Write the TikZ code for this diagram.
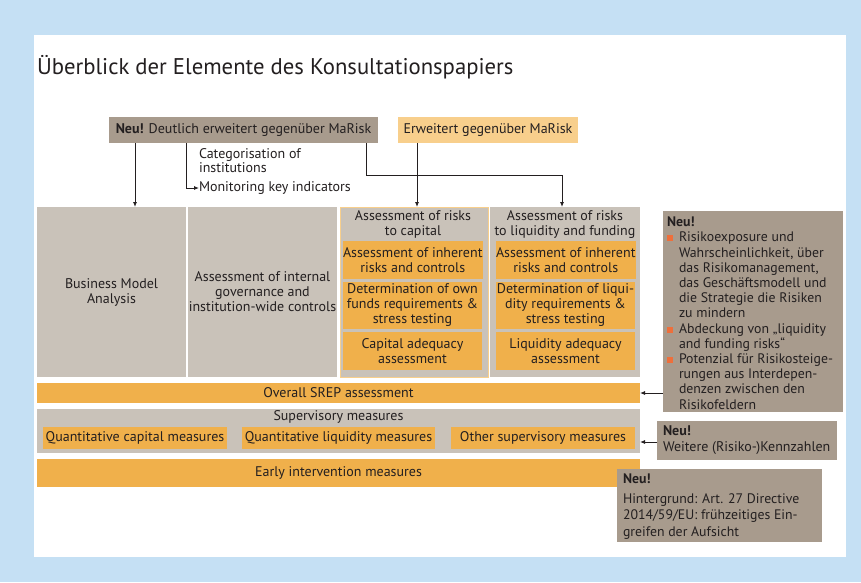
\documentclass[tikz,border=0pt]{standalone}
\usepackage{fontspec}
\setmainfont{PT Sans}
\usetikzlibrary{arrows.meta}
\definecolor{bgblue}{HTML}{C5E0F4}
\definecolor{taupe}{HTML}{A89B8D}
\definecolor{ltaupe}{HTML}{C9C2B9}
\definecolor{orng}{HTML}{F0B04B}
\definecolor{lorng}{HTML}{F8CF8C}
\definecolor{bul}{HTML}{EE6F3B}
\definecolor{ink}{HTML}{231F20}
\newcommand\bsq{\makebox[12pt][l]{\textcolor{bul}{\rule[0.5pt]{6pt}{6pt}}}}
\newcommand\bind{\hspace*{12pt}}
\begin{document}
\begin{tikzpicture}[x=1pt,y=-1pt,
  txt/.style={inner sep=0pt, outer sep=0pt, text=ink, font=\fontsize{14}{15}\selectfont},
  box/.style={txt, anchor=north west, align=center},
  gbox/.style={box, fill=ltaupe},
  obox/.style={box, fill=orng},
  tbox/.style={box, fill=taupe},
  lbl/.style={txt, align=left},
  arr/.style={-{Latex[length=5pt,width=4pt]}, line width=0.9pt, draw=ink},
  conn/.style={line width=0.9pt, draw=ink}]
\fill[bgblue] (0,0) rectangle (861,582);
\useasboundingbox (0,0) rectangle (861,582);
\fill[white] (34,35) rectangle (846,557);

\node[lbl, anchor=base west, font=\fontsize{22.7}{26}\selectfont] (title) at (37,74) {Überblick der Elemente des Konsultationspapiers};

% top boxes
\node[tbox, minimum width=269, minimum height=26] (neu) at (109,117) {{\bfseries Neu!} Deutlich erweitert gegenüber MaRisk};
\node[box, fill=lorng, minimum width=180, minimum height=26] (erw) at (398,117) {Erweitert gegenüber MaRisk};

% main row
\node[gbox, minimum width=149, minimum height=170] (bma) at (37,207) {Business Model\\Analysis};
\node[gbox, minimum width=149, minimum height=170] (gov) at (188,207) {Assessment of internal\\governance and\\institution-wide controls};
\node[gbox, draw=lorng, line width=0.8pt, minimum width=148, minimum height=170] (cap) at (340,207) {};
\node[gbox, minimum width=150, minimum height=170] (liq) at (490,207) {};
\node[lbl, align=center, anchor=north, font=\fontsize{14}{14.5}\selectfont] (capt) at (413,211) {Assessment of risks\\to capital};
\node[lbl, align=center, anchor=north, font=\fontsize{14}{14.5}\selectfont] (liqt) at (565,211) {Assessment of risks\\to liquidity and funding};

\node[obox, minimum width=139, minimum height=38] (c1) at (343,241) {Assessment of inherent\\risks and controls};
\node[obox, minimum width=139, minimum height=47] (c2) at (343,282) {Determination of own\\funds requirements \&\\stress testing};
\node[obox, minimum width=139, minimum height=38] (c3) at (343,332) {Capital adequacy\\assessment};
\node[obox, minimum width=139, minimum height=38] (l1) at (496,241) {Assessment of inherent\\risks and controls};
\node[obox, minimum width=139, minimum height=47] (l2) at (496,282) {Determination of liqui-\\dity requirements \&\\stress testing};
\node[obox, minimum width=139, minimum height=38] (l3) at (496,332) {Liquidity adequacy\\assessment};

% lower rows
\node[obox, minimum width=603, minimum height=20] (srep) at (37,383) {Overall SREP assessment};
\node[gbox, minimum width=603, minimum height=44] (sup) at (37,409) {};
\node[txt, anchor=north] (supt) at (338.5,411) {Supervisory measures};
\node[obox, minimum width=184, minimum height=22] (s1) at (43,427) {Quantitative capital measures};
\node[obox, minimum width=193, minimum height=22] (s2) at (242,427) {Quantitative liquidity measures};
\node[obox, minimum width=184, minimum height=22] (s3) at (451,427) {Other supervisory measures};
\node[obox, minimum width=603, minimum height=28] (early) at (37,459) {Early intervention measures};

% labels near top connectors
\node[lbl, anchor=north west, font=\fontsize{14}{12.5}\selectfont] (cat) at (199,149) {Categorisation of\\institutions};
\node[lbl, anchor=west] (mon) at (199,188) {Monitoring key indicators};

% notes
\node[tbox, minimum width=180, minimum height=201] (n1) at (663,211) {};
\node[lbl, anchor=north west, font=\fontsize{13.8}{15.2}\selectfont] (n1t) at (667,217) {{\bfseries Neu!}\\
\bsq Risikoexposure und\\
\bind Wahrscheinlichkeit, über\\
\bind das Risikomanagement,\\
\bind das Geschäftsmodell und\\
\bind die Strategie die Risiken\\
\bind zu mindern\\
\bsq Abdeckung von „liquidity\\
\bind and funding risks“\\
\bsq Potenzial für Risikosteige-\\
\bind rungen aus Interdepen-\\
\bind denzen zwischen den\\
\bind Risikofeldern};

\node[tbox, minimum width=180, minimum height=39] (n2) at (657,421) {};
\node[lbl, anchor=north west, font=\fontsize{14}{16}\selectfont] (n2t) at (663,426) {{\bfseries Neu!}\\Weitere (Risiko-)Kennzahlen};

\node[tbox, minimum width=205, minimum height=73] (n3) at (617,469) {};
\node[lbl, anchor=north west, font=\fontsize{13.8}{16.5}\selectfont] (n3t) at (623,474) {{\bfseries Neu!}\\[3pt]Hintergrund: Art. 27 Directive\\2014/59/EU: frühzeitiges Ein-\\greifen der Aufsicht};

% connectors
\coordinate (p1) at (135,143);
\draw[arr] (p1) -- (p1 |- bma.north);
\coordinate (p2) at (186,143);
\draw[arr] (p2) -- (p2 |- mon.west) -- (mon.west);
\coordinate (p3) at (366,143);
\coordinate (p4) at (562,175);
\draw[arr] (p3) -- (p3 |- p4) -- (p4) -- (p4 |- liq.north);
\coordinate (p5) at (417,143);
\draw[arr] (p5) -- (p5 |- cap.north);
\draw[arr] (n1.west |- srep.east) -- (srep.east);
\coordinate (p6) at (657,442);
\draw[arr] (p6) -- (p6 -| srep.east);
\end{tikzpicture}
\end{document}
